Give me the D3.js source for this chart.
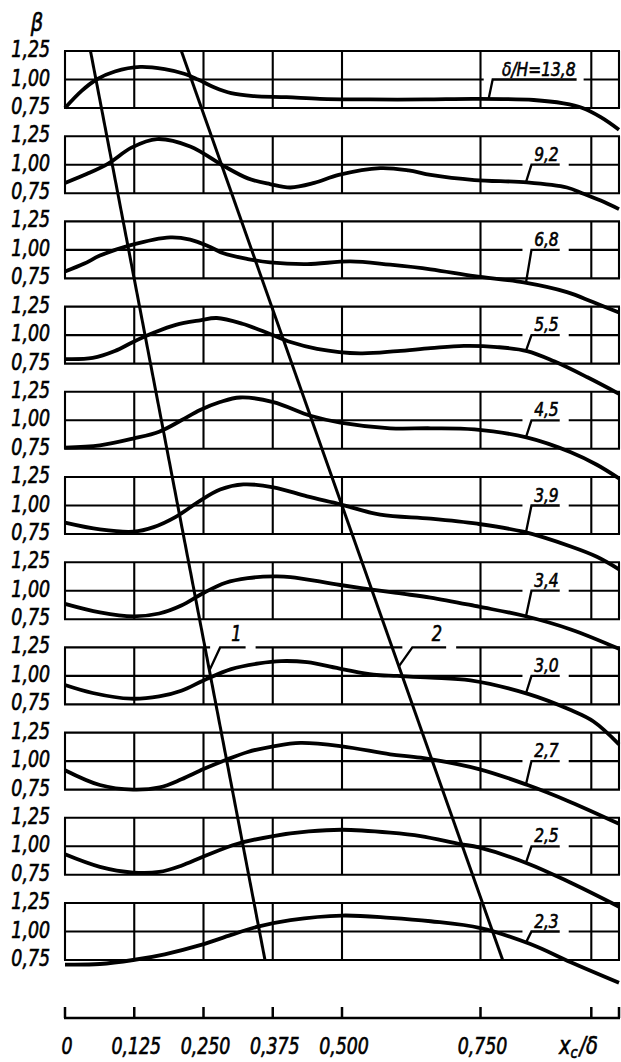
<!DOCTYPE html>
<html><head><meta charset="utf-8">
<script src="https://cdn.jsdelivr.net/npm/d3@7"></script>
<style>
html,body{margin:0;padding:0;background:#fff;}
svg{display:block;}
text{font-family:"DejaVu Sans Condensed","DejaVu Sans",sans-serif;font-stretch:condensed;font-style:italic;fill:#000;stroke:#000;stroke-width:0.6;}
</style></head><body>
<svg id="chart" width="621" height="1062"></svg>
<script>
// ---------- data ----------
const seriesLabels = ["δ/H=13,8","9,2","6,8","5,5","4,5","3,9","3,4","3,0","2,7","2,5","2,3"];

const beta138 = [[0,0.75],[0.03,0.9],[0.057,1.0],[0.09,1.07],[0.136,1.11],[0.18,1.09],[0.215,1.05],[0.24,1.0],[0.27,0.93],[0.3,0.88],[0.34,0.855],[0.4,0.845],[0.46,0.83],[0.55,0.825],[0.65,0.825],[0.74,0.83],[0.846,0.82],[0.9,0.79],[0.934,0.75],[0.967,0.67],[1.0,0.56]];
const beta92  = [[0,0.84],[0.04,0.92],[0.078,1.01],[0.12,1.15],[0.166,1.225],[0.226,1.16],[0.286,0.99],[0.33,0.88],[0.37,0.83],[0.407,0.80],[0.45,0.84],[0.494,0.91],[0.569,0.97],[0.62,0.95],[0.66,0.91],[0.739,0.865],[0.834,0.845],[0.906,0.80],[0.936,0.745],[0.967,0.685],[1.0,0.61]];
const beta68  = [[0,0.81],[0.035,0.88],[0.063,0.95],[0.117,1.04],[0.19,1.11],[0.226,1.09],[0.26,1.03],[0.286,0.97],[0.33,0.92],[0.37,0.89],[0.437,0.875],[0.515,0.90],[0.587,0.87],[0.66,0.83],[0.739,0.77],[0.828,0.715],[0.906,0.63],[0.954,0.54],[1.0,0.45]];
const beta55  = [[0,0.79],[0.05,0.80],[0.09,0.86],[0.123,0.94],[0.16,1.02],[0.2,1.09],[0.244,1.13],[0.274,1.15],[0.32,1.10],[0.37,1.01],[0.407,0.94],[0.455,0.88],[0.533,0.84],[0.6,0.86],[0.66,0.885],[0.72,0.905],[0.78,0.895],[0.834,0.86],[0.883,0.77],[0.943,0.63],[1.0,0.485]];
const beta45  = [[0,0.76],[0.063,0.78],[0.123,0.84],[0.17,0.9],[0.21,1.0],[0.244,1.09],[0.28,1.16],[0.316,1.2],[0.376,1.16],[0.443,1.04],[0.497,0.98],[0.587,0.93],[0.66,0.93],[0.739,0.92],[0.833,0.85],[0.913,0.72],[0.96,0.61],[1.0,0.49]];
const beta39  = [[0,0.85],[0.063,0.79],[0.123,0.77],[0.16,0.81],[0.2,0.9],[0.24,1.03],[0.28,1.14],[0.322,1.185],[0.376,1.16],[0.437,1.08],[0.497,1.01],[0.569,0.92],[0.66,0.885],[0.744,0.84],[0.827,0.77],[0.913,0.64],[0.96,0.55],[1.0,0.44]];
const beta34  = [[0,0.885],[0.063,0.81],[0.123,0.775],[0.17,0.8],[0.21,0.87],[0.25,0.98],[0.29,1.07],[0.33,1.11],[0.376,1.125],[0.407,1.12],[0.497,1.05],[0.598,0.98],[0.66,0.94],[0.747,0.86],[0.828,0.78],[0.913,0.66],[1.0,0.49]];
const beta30  = [[0,0.92],[0.05,0.85],[0.119,0.80],[0.17,0.82],[0.21,0.87],[0.25,0.96],[0.3,1.06],[0.35,1.11],[0.39,1.13],[0.437,1.12],[0.5,1.06],[0.557,1.01],[0.6,1.0],[0.66,0.985],[0.732,0.96],[0.837,0.84],[0.913,0.70],[0.954,0.60],[1.0,0.40]];
const beta27  = [[0,0.92],[0.063,0.79],[0.123,0.75],[0.171,0.77],[0.21,0.84],[0.25,0.93],[0.29,1.01],[0.33,1.08],[0.376,1.13],[0.425,1.16],[0.5,1.13],[0.587,1.06],[0.642,1.03],[0.747,0.93],[0.835,0.79],[0.913,0.64],[1.0,0.45]];
const beta25  = [[0,0.93],[0.063,0.82],[0.123,0.77],[0.17,0.775],[0.21,0.83],[0.25,0.91],[0.31,1.02],[0.376,1.09],[0.44,1.13],[0.5,1.145],[0.587,1.12],[0.642,1.09],[0.713,1.02],[0.747,0.99],[0.835,0.85],[0.913,0.68],[1.0,0.47]];
const beta23  = [[0,0.71],[0.063,0.715],[0.123,0.75],[0.18,0.8],[0.244,0.88],[0.3,0.97],[0.346,1.04],[0.407,1.1],[0.5,1.14],[0.587,1.12],[0.66,1.09],[0.75,1.03],[0.84,0.89],[0.913,0.73],[1.0,0.55]];
const seriesData = [beta138,beta92,beta68,beta55,beta45,beta39,beta34,beta30,beta27,beta25,beta23];

// straight reference lines 1 and 2: x at top of first panel, x at bottom of last panel
const line1X = [0.046, 0.361];
const line2X = [0.21, 0.79];
const refLineLabels = ["1","2"];

const xTickValues = [0,0.125,0.25,0.375,0.5,0.75];
const xTickLabels = ["0","0,125","0,250","0,375","0,500","0,750"];
const xAxisTicksAll = [0,0.125,0.25,0.375,0.5,0.75,0.95,1.0];
const xGridValues = [0.125,0.25,0.375,0.5,0.75,0.95];
const yTickValues = [0.75,1.00,1.25];
const yTickLabels = ["0,75","1,00","1,25"];

// ---------- layout ----------
const svg = d3.select("#chart");
const x = d3.scaleLinear().domain([0,1]).range([65,619]);
const top0 = 51, step = 85.2, ph = 57;
const yScale = i => { const t = top0 + i*step; return d3.scaleLinear().domain([0.75,1.25]).range([t+ph,t]); };
const nP = seriesData.length;
const gridW = 2.1, curveW = 3.8, refW = 3;

const gGrid = svg.append("g");
const gGap = svg.append("g");
const gLead = svg.append("g");
const gCurve = svg.append("g");
const gRef = svg.append("g");
const gText = svg.append("g");

function addText(g, tx, ty, str, size, anchor, sx){
  return g.append("text").attr("transform",`translate(${tx},${ty}) scale(${sx},1)`)
    .attr("text-anchor",anchor).attr("font-size",size).text(str);
}

const lineGen = (ys) => d3.line().x(d=>x(d[0])).y(d=>ys(d[1])).curve(d3.curveCatmullRom.alpha(0.5));

for (let i=0;i<nP;i++){
  const ys = yScale(i);
  yTickValues.forEach(v=>{
    gGrid.append("line").attr("x1",x(0)-1).attr("x2",x(1)+1).attr("y1",ys(v)).attr("y2",ys(v))
      .attr("stroke","#000").attr("stroke-width",gridW);
  });
  [0].concat(xGridValues).concat([1]).forEach(v=>{
    gGrid.append("line").attr("x1",x(v)).attr("x2",x(v)).attr("y1",ys(1.25)).attr("y2",ys(0.75))
      .attr("stroke","#000").attr("stroke-width",gridW);
  });
  yTickValues.forEach((v,k)=>{
    addText(gText, 50, ys(v)+6, yTickLabels[k], 23, "end", 0.84);
  });
  gCurve.append("path").datum(seriesData[i]).attr("d",lineGen(ys))
    .attr("fill","none").attr("stroke","#000").attr("stroke-width",curveW).attr("stroke-linejoin","round");

  const first = i===0;
  const u0 = first?0.772:0.842, u1 = first?0.9235:0.893, lx = first?0.7645:0.832;
  const interp = d3.scaleLinear().domain(seriesData[i].map(d=>d[0])).range(seriesData[i].map(d=>d[1]));
  const yl = ys(1.0);
  gGap.append("line").attr("x1",x(u0)-9).attr("x2",x(u1)+(first?7:9)).attr("y1",yl).attr("y2",yl)
    .attr("stroke","#fff").attr("stroke-width",5);
  gLead.append("path").attr("d",`M${x(lx)},${ys(interp(lx))}L${x(u0)},${yl}L${x(u1)},${yl}`)
    .attr("fill","none").attr("stroke","#000").attr("stroke-width",2.3);
  addText(gText, x(u1)-1, yl-4, seriesLabels[i], 20, "end", 0.86);
}

// reference lines 1 & 2
const yTopAll = yScale(0)(1.25), yBotAll = yScale(nP-1)(0.75);
[line1X,line2X].forEach(lx=>{
  gRef.append("line").attr("x1",x(lx[0])).attr("y1",yTopAll).attr("x2",x(lx[1])).attr("y2",yBotAll)
    .attr("stroke","#000").attr("stroke-width",refW);
});
const refLabelPanel = 7;
const yRefLab = yScale(refLabelPanel)(1.25);
const refLabLayout = [{line:line1X,u0:0.28,u1:0.326,dy:23},{line:line2X,u0:0.627,u1:0.688,dy:19}];
refLabLayout.forEach((L,k)=>{
  const yEnd = yRefLab + L.dy;
  const t = (yEnd - yTopAll)/(yBotAll - yTopAll);
  const xEnd = x(L.line[0]) + t*(x(L.line[1]) - x(L.line[0]));
  gGap.append("line").attr("x1",x(L.u0)-10).attr("x2",x(L.u1)+10).attr("y1",yRefLab).attr("y2",yRefLab)
    .attr("stroke","#fff").attr("stroke-width",5);
  gLead.append("path").attr("d",`M${xEnd},${yEnd}L${x(L.u0)},${yRefLab}L${x(L.u1)},${yRefLab}`)
    .attr("fill","none").attr("stroke","#000").attr("stroke-width",2.3);
  addText(gText, x(L.u1)-4, yRefLab-6, refLineLabels[k], 21, "end", 0.86);
});

// x axis
const yAxis = 1018;
svg.append("line").attr("x1",x(0)-1).attr("x2",x(1)+1).attr("y1",yAxis).attr("y2",yAxis)
  .attr("stroke","#000").attr("stroke-width",2.5);
xAxisTicksAll.forEach(v=>{
  svg.append("line").attr("x1",x(v)).attr("x2",x(v)).attr("y1",yAxis).attr("y2",yAxis-11)
    .attr("stroke","#000").attr("stroke-width",2.5);
});
xTickValues.forEach((v,k)=>{
  addText(gText, x(v)+2, 1054, xTickLabels[k], 23, "middle", 0.84);
});
const xt = gText.append("text").attr("transform","translate(559,1054) scale(0.9,1)").attr("font-size",24);
xt.append("tspan").text("x");
xt.append("tspan").attr("dy",4).attr("font-size",16).text("c");
xt.append("tspan").attr("dy",-4).attr("dx",2).text("/δ");

addText(gText, 37, 31, "β", 24, "middle", 0.9);
</script>
</body></html>
